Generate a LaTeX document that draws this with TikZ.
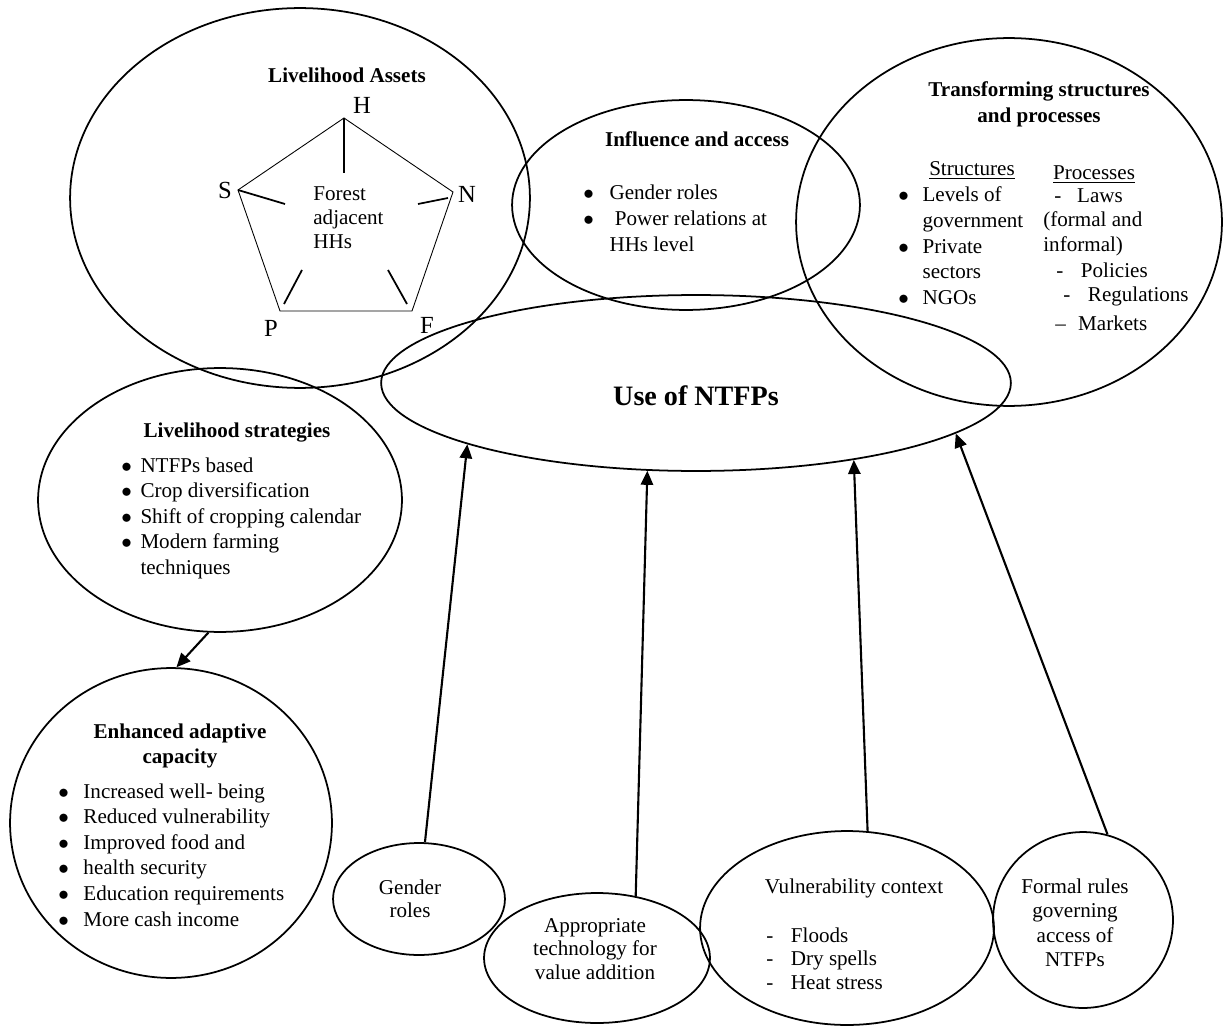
\documentclass[tikz,border=0pt]{standalone}
\usepackage{fontspec}
\setmainfont{Liberation Serif}
\usetikzlibrary{shapes.geometric, arrows.meta, positioning}

\begin{document}
\begin{tikzpicture}[
  x=0.02cm, y=-0.02cm,
  font=\fontsize{12}{14.6}\selectfont,
  bubble/.style 2 args={ellipse, draw, line width=1pt, inner sep=0pt,
    minimum width=#1*0.04cm, minimum height=#2*0.04cm},
  txt/.style={inner sep=0pt, anchor=base west},
  ctxt/.style={inner sep=0pt, anchor=base},
  head/.style={inner sep=0pt, anchor=base, font=\fontsize{12}{14.6}\selectfont\bfseries},
  corner/.style={inner sep=0pt, anchor=base, font=\fontsize{14}{16}\selectfont},
  tight/.style={font=\fontsize{12}{13.6}\selectfont},
  edge/.style={line width=0.5pt},
  spoke/.style={line width=1pt},
  flow/.style={-{Triangle[length=8pt,width=7pt]}, line width=1.2pt}
]
\useasboundingbox (0,0) rectangle (1223,1027);

% Ellipses
\node[bubble={230}{190}] (assets) at (300,198) {};
\node[bubble={174}{105}] (influence) at (686,205) {};
\node[bubble={213}{184}] (transform) at (1009,222) {};
\node[bubble={315}{88}] (usentfp) at (696,383) {};
\node[bubble={182}{132}] (strategies) at (220,500) {};
\node[bubble={161}{155}] (capacity) at (171,823) {};
\node[bubble={86}{56}] (gender) at (419,899) {};
\node[bubble={113}{65}] (tech) at (597,958) {};
\node[bubble={147}{97}] (vulner) at (847,928) {};
\node[bubble={90}{88}] (rules) at (1083,920) {};

% Livelihood assets pentagon
\node[head] (assetsT) at (347,83) {Livelihood Assets};
\coordinate (pH) at (344,118);
\coordinate (pN) at (453,192);
\coordinate (pF) at (412,311);
\coordinate (pP) at (280,311);
\coordinate (pS) at (238,190);
\draw[edge] (pH) -- (pN) -- (pF) -- (pP) -- (pS) -- cycle;
\coordinate (sH) at (344,173);
\coordinate (sS) at (285,204);
\coordinate (nA) at (448,198);
\coordinate (sN) at (418,204);
\coordinate (pA) at (284,304);
\coordinate (sP) at (302,270);
\coordinate (fA) at (407,304);
\coordinate (sF) at (388,270);
\draw[spoke] (pH) -- (sH);
\draw[spoke] (pS) -- (sS);
\draw[spoke] (nA) -- (sN);
\draw[spoke] (pA) -- (sP);
\draw[spoke] (fA) -- (sF);
\node[corner] (labH) at (362,114) {H};
\node[corner] (labS) at (225,198) {S};
\node[corner] (labN) at (467,203) {N};
\node[corner] (labP) at (271,336) {P};
\node[corner] (labF) at (427,333) {F};
\node[txt] (forest) at (313,201) {\fontsize{12}{13.6}\selectfont
  \begin{tabular}[t]{@{}l@{}}Forest\\adjacent\\HHs\end{tabular}};

% Influence and access
\node[head] (influenceT) at (697,147) {Influence and access};
\node[txt] (influenceL) at (583,200) {\begin{tabular}[t]{@{}l@{\hspace{8.9pt}}l@{}}
  $\bullet$ & Gender roles\\
  $\bullet$ & \ Power relations at\\
   & HHs level\end{tabular}};

% Transforming structures and processes
\node[head] (transformT) at (1039,97) {\begin{tabular}[t]{@{}c@{}}Transforming structures\\and processes\end{tabular}};
\node[ctxt] (structT) at (972,176) {\underline{Structures}};
\node[txt] (structL) at (898,202) {\begin{tabular}[t]{@{}l@{\hspace{7.8pt}}l@{}}
  $\bullet$ & Levels of\\
   & government\\
  $\bullet$ & Private\\
   & sectors\\
  $\bullet$ & NGOs\end{tabular}};
\node[ctxt] (procT) at (1094,180) {\underline{Processes}};
\node[txt] (procA) at (1054,203) {-\hspace{9pt}Laws};
\node[txt] (procB) at (1043,227) {(formal and};
\node[txt] (procC) at (1043,252) {informal)};
\node[txt] (procD) at (1056,277) {-\hspace{10pt}Policies};
\node[txt] (procE) at (1063,301) {-\hspace{10pt}Regulations};
\node[txt] (procF) at (1055,330) {--\hspace{7pt}Markets};

% Use of NTFPs
\node[ctxt, font=\fontsize{16}{19}\selectfont\bfseries] (usentfpT) at (696,405) {Use of NTFPs};

% Livelihood strategies
\node[head] (strategiesT) at (237,437) {Livelihood strategies};
\node[txt] (strategiesL) at (121,472) {\begin{tabular}[t]{@{}l@{\hspace{4.9pt}}l@{}}
  $\bullet$ & NTFPs based\\
  $\bullet$ & Crop diversification\\
  $\bullet$ & Shift of cropping calendar\\
  $\bullet$ & Modern farming\\
   & techniques\end{tabular}};

% Enhanced adaptive capacity
\node[head] (capacityT) at (180,738) {\begin{tabular}[t]{@{}c@{}}Enhanced adaptive\\capacity\end{tabular}};
\node[txt] (capacityL) at (58,798) {\begin{tabular}[t]{@{}l@{\hspace{8.3pt}}l@{}}
  $\bullet$ & Increased well- being\\
  $\bullet$ & Reduced vulnerability\\
  $\bullet$ & Improved food and\\
  $\bullet$ & health security\\
  $\bullet$ & Education requirements\\
  $\bullet$ & More cash income\end{tabular}};

% Drivers
\node[ctxt, tight] (genderT) at (410,894) {\begin{tabular}[t]{@{}c@{}}Gender\\roles\end{tabular}};
\node[ctxt, tight] (techT) at (595,932) {\begin{tabular}[t]{@{}c@{}}Appropriate\\technology for\\value addition\end{tabular}};
\node[ctxt] (vulnerT) at (854,893) {Vulnerability context};
\node[txt, tight] (vulnerL) at (766,942) {\begin{tabular}[t]{@{}l@{\hspace{10pt}}l@{}}
  - & Floods\\
  - & Dry spells\\
  - & Heat stress\end{tabular}};
\node[ctxt] (rulesT) at (1075,893) {\fontsize{12}{14}\selectfont
  \begin{tabular}[t]{@{}c@{}}Formal rules\\governing\\access of\\NTFPs\end{tabular}};

% Arrows
\draw[flow] (strategies.265) -- (capacity.88);
\draw[flow] (gender.84) -- (usentfp.195);
\draw[flow] (tech.58) -- (usentfp.241);
\draw[flow] (vulner.78) -- (usentfp.334);
\draw[flow] (rules.74) -- (usentfp.349);

\end{tikzpicture}
\end{document}
